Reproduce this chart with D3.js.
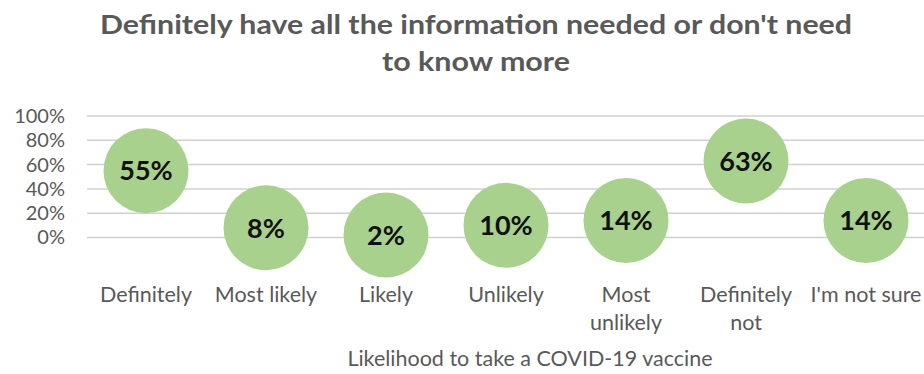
<!DOCTYPE html>
<html><head><meta charset="utf-8">
<script src="https://cdn.jsdelivr.net/npm/d3@7"></script>
<style>body{margin:0;background:#fff}svg{display:block}text{font-family:Lato,"Open Sans",sans-serif}</style>
</head><body>
<script>
const categories = ["Definitely","Most likely","Likely","Unlikely","Most unlikely","Definitely not","I'm not sure"];
const categoryLines = [["Definitely"],["Most likely"],["Likely"],["Unlikely"],["Most","unlikely"],["Definitely","not"],["I'm not sure"]];
const values = [55, 8, 2, 10, 14, 63, 14];
const yTicks = [0, 20, 40, 60, 80, 100];
const titleLines = ["Definitely have all the information needed or don't need","to know more"];
const xAxisTitle = "Likelihood to take a COVID-19 vaccine";

const W = 924, H = 374;
const svg = d3.select("body").append("svg").attr("width", W).attr("height", H);

const x = d3.scaleBand().domain(categories).range([86, 926]);
const y = d3.scaleLinear().domain([0, 100]).range([237.5, 116]);

// gridlines
svg.append("g").selectAll("line").data(yTicks).join("line")
  .attr("x1", 87).attr("x2", 924)
  .attr("y1", d => y(d)).attr("y2", d => y(d))
  .attr("stroke", "#d0d0d0").attr("stroke-width", 1.5);

// y axis labels
const yAxis = d3.axisLeft(y).tickValues(yTicks).tickFormat(d => d + "%").tickSize(0).tickPadding(0);
const ya = svg.append("g").attr("transform", "translate(65,0)").call(yAxis);
ya.select(".domain").remove();
ya.selectAll("text").attr("font-size", 20).attr("fill", "#595959").attr("font-family", "Lato, sans-serif");

// bubbles
const r = 42.5;
const g = svg.append("g");
g.selectAll("circle").data(values).join("circle")
  .attr("cx", (d, i) => x(categories[i]) + x.bandwidth() / 2)
  .attr("cy", d => y(d))
  .attr("r", r)
  .attr("fill", "#a9d18e");
g.selectAll("text").data(values).join("text")
  .attr("x", (d, i) => x(categories[i]) + x.bandwidth() / 2)
  .attr("y", d => y(d))
  .attr("dy", "0.36em")
  .attr("text-anchor", "middle")
  .attr("font-size", 27).attr("font-weight", "bold").attr("fill", "#111")
  .text(d => d + "%");

// x labels
const xl = svg.append("g");
categories.forEach((c, i) => {
  const t = xl.append("text")
    .attr("x", x(c) + x.bandwidth() / 2)
    .attr("y", 302)
    .attr("text-anchor", "middle")
    .attr("font-size", 21.5).attr("fill", "#595959");
  categoryLines[i].forEach((ln, j) => {
    t.append("tspan").attr("x", x(c) + x.bandwidth() / 2).attr("dy", j === 0 ? 0 : 28).text(ln);
  });
});

// axis title
svg.append("text").attr("x", 530).attr("y", 366).attr("text-anchor", "middle")
  .attr("font-size", 21.5).attr("fill", "#595959").text(xAxisTitle);

// title
const titleW = [752, 188];
svg.append("g").selectAll("text").data(titleLines).join("text")
  .attr("x", 476).attr("y", (d, i) => 34 + i * 37)
  .attr("text-anchor", "middle")
  .attr("font-size", 27).attr("font-weight", "bold").attr("fill", "#595959")
  .attr("textLength", (d, i) => titleW[i]).attr("lengthAdjust", "spacingAndGlyphs")
  .text(d => d);
</script>
</body></html>
